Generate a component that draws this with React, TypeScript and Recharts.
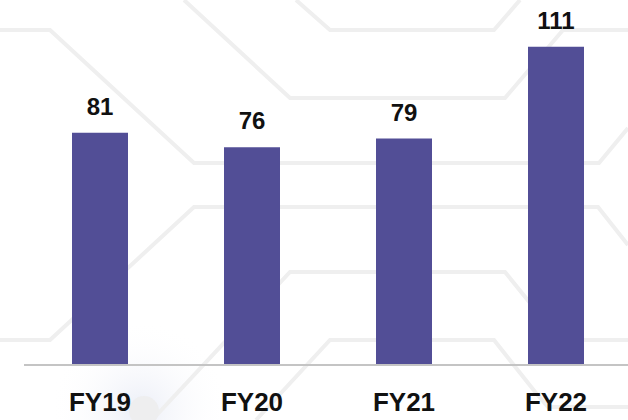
import React from "react";
import { BarChart, Bar, XAxis, YAxis, LabelList } from "recharts";

const categories = ["FY19", "FY20", "FY21", "FY22"];
const values = [81, 76, 79, 111];

const data = categories.map((c, i) => ({ name: c, value: values[i] }));

const circuitPaths = [
  "M296,0 L330,30 L494,30 L520,0",
  "M184,0 L290,98 L505,98 L563,30 L628,30",
  "M0,30 L50,30 L194,163 L599,163 L628,128",
  "M0,340 L50,340 L194,207 L598,207 L628,245",
  "M152,420 L290,272 L505,272 L560,340",
  "M256,420 L330,340 L494,340 L536,393 L548,407 L628,407",
  "M584,340 L628,340",
];

export default function App() {
  return (
    <div
      style={{
        position: "absolute",
        left: 0,
        top: 0,
        width: 628,
        height: 420,
        overflow: "hidden",
        background: "#ffffff",
      }}
    >
      <svg
        width={628}
        height={420}
        style={{ position: "absolute", left: 0, top: 0 }}
      >
        <defs>
          <radialGradient id="glow" cx="50%" cy="50%" r="50%">
            <stop offset="0%" stopColor="#e9ecf6" stopOpacity={0.9} />
            <stop offset="100%" stopColor="#ffffff" stopOpacity={0} />
          </radialGradient>
        </defs>
        <circle cx={140} cy={410} r={90} fill="url(#glow)" />
        {circuitPaths.map((d, i) => (
          <path
            key={i}
            d={d}
            fill="none"
            stroke="#efefef"
            strokeWidth={4}
            strokeLinejoin="miter"
          />
        ))}
        <circle cx={144} cy={411} r={15} fill="#eeeeef" />
      </svg>
      <div style={{ position: "absolute", left: 0, top: 0 }}>
        <BarChart
          width={632}
          height={420}
          data={data}
          margin={{ top: 21, right: 0, left: 24, bottom: 0 }}
          barCategoryGap={48}
        >
          <YAxis hide domain={[0, 120]} />
          <XAxis
            dataKey="name"
            axisLine={{ stroke: "#c4c4c4", strokeWidth: 2 }}
            tickLine={false}
            tickSize={0}
            tickMargin={28}
            height={55}
            interval={0}
            tick={{
              fill: "#111111",
              fontSize: 26,
              fontWeight: 700,
              fontFamily: "'Liberation Sans', Arial, sans-serif",
            }}
          />
          <Bar
            dataKey="value"
            fill="#524E96"
            barSize={56}
            isAnimationActive={false}
          >
            <LabelList
              dataKey="value"
              position="top"
              offset={18}
              style={{
                fill: "#111111",
                fontSize: 24,
                fontWeight: 700,
                fontFamily: "'Liberation Sans', Arial, sans-serif",
              }}
            />
          </Bar>
        </BarChart>
      </div>
    </div>
  );
}
